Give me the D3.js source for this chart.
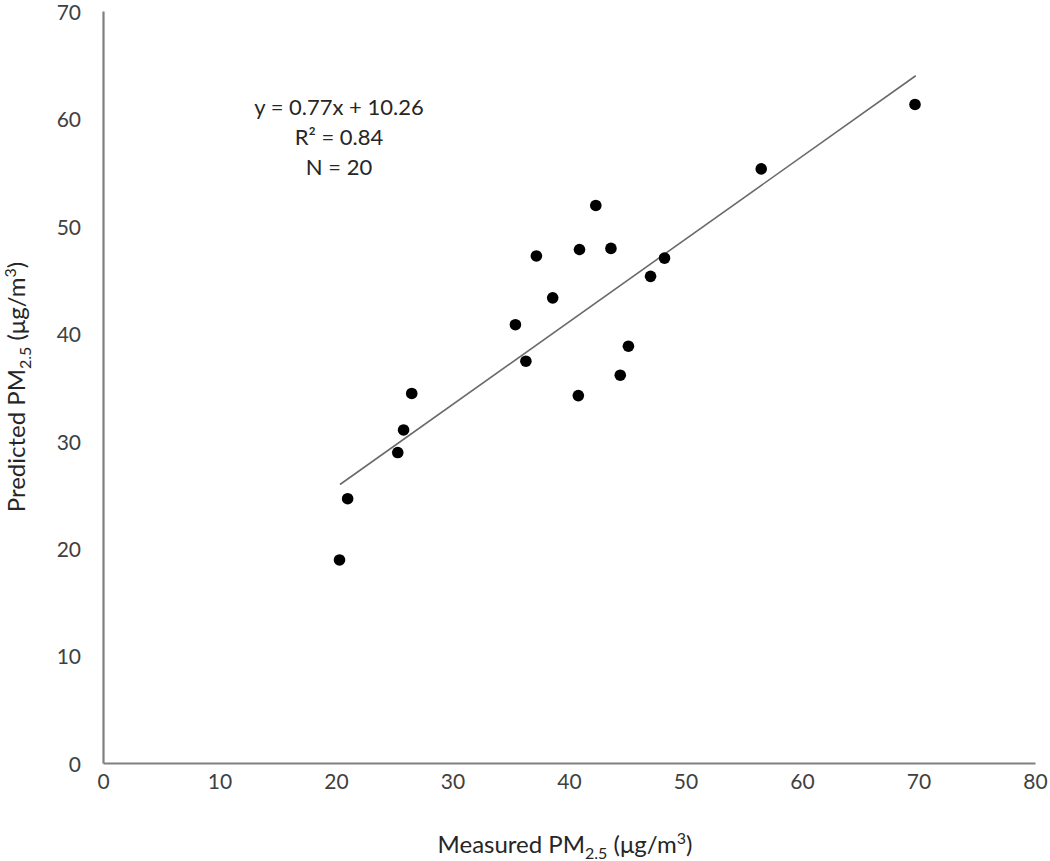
<!DOCTYPE html>
<html>
<head>
<meta charset="utf-8">
<script src="https://cdn.jsdelivr.net/npm/d3@7"></script>
<style>
  body { margin: 0; background: #fff; }
  text { font-family: Lato, "Open Sans", sans-serif; }
</style>
</head>
<body>
<div id="chart"></div>
<script>
// Measured vs predicted PM2.5
var measured  = [20.3, 21.0, 25.3, 25.8, 26.5, 35.4, 36.3, 37.2, 38.6, 40.9, 40.8, 42.3, 43.6, 44.4, 45.1, 47.0, 48.2, 56.5, 69.7];
var predicted = [18.9, 24.6, 28.9, 31.0, 34.4, 40.8, 37.4, 47.2, 43.3, 47.8, 34.2, 51.9, 47.9, 36.1, 38.8, 45.3, 47.0, 55.3, 61.3];

// trend line y = 0.77x + 10.26, drawn over the range of the data
var slope = 0.77;
var intercept = 10.26;
var fitRange = [20.34, 69.76];

var xTicks = [0, 10, 20, 30, 40, 50, 60, 70, 80];
var yTicks = [0, 10, 20, 30, 40, 50, 60, 70];
var notes = ['y = 0.77x + 10.26', 'R² = 0.84', 'N = 20'];

(function() {
  var svgWidth = 1050, svgHeight = 861;
  var plotLeft = 103, plotRight = 1035, plotTop = 11, plotBottom = 763;

  var svg = d3.select('#chart').append('svg')
    .attr('width', svgWidth)
    .attr('height', svgHeight);

  var x = d3.scaleLinear().domain([0, 80]).range([plotLeft, plotRight]);
  var y = d3.scaleLinear().domain([0, 70]).range([plotBottom, plotTop]);

  // axes: plain gray lines, no tick marks
  var xAxis = svg.append('g')
    .attr('transform', 'translate(0,' + plotBottom + ')')
    .call(d3.axisBottom(x).tickValues(xTicks).tickSize(0).tickPadding(22));
  var yAxis = svg.append('g')
    .attr('transform', 'translate(' + plotLeft + ',0)')
    .call(d3.axisLeft(y).tickValues(yTicks).tickSize(0).tickPadding(22));

  [xAxis, yAxis].forEach(function(g) {
    g.select('.domain').attr('stroke', '#7f7f7f').attr('stroke-width', 2.2);
    g.selectAll('text')
      .attr('fill', '#404040')
      .style('font-size', '21px')
      .style('font-family', 'Lato, "Open Sans", sans-serif');
  });
  xAxis.selectAll('text').attr('dy', '0.2em');
  yAxis.selectAll('text').attr('dy', '0.4em');

  // fitted line
  svg.append('line')
    .attr('x1', x(fitRange[0]))
    .attr('y1', y(slope * fitRange[0] + intercept))
    .attr('x2', x(fitRange[1]))
    .attr('y2', y(slope * fitRange[1] + intercept))
    .attr('stroke', '#6b6b6b')
    .attr('stroke-width', 1.6);

  // points
  svg.selectAll('circle')
    .data(measured)
    .enter()
    .append('circle')
    .attr('cx', function(d) { return x(d); })
    .attr('cy', function(d, i) { return y(predicted[i]); })
    .attr('r', 5.8)
    .attr('fill', '#000');

  // equation block
  svg.selectAll('.note')
    .data(notes)
    .enter()
    .append('text')
    .attr('class', 'note')
    .attr('x', 339)
    .attr('y', function(d, i) { return 115 + i * 30; })
    .attr('text-anchor', 'middle')
    .attr('fill', '#262626')
    .style('font-size', '22px')
    .text(function(d) { return d; });

  // axis titles with subscript / superscript parts
  var addTitle = function(sel, name) {
    sel.append('tspan').text(name + ' PM');
    sel.append('tspan').attr('dy', 6).style('font-size', '16px').text('2.5');
    sel.append('tspan').attr('dy', -6).text(' (μg/m');
    sel.append('tspan').attr('dy', -9).style('font-size', '16px').text('3');
    sel.append('tspan').attr('dy', 9).text(')');
  };

  addTitle(svg.append('text')
    .attr('x', 565)
    .attr('y', 853)
    .attr('text-anchor', 'middle')
    .attr('fill', '#262626')
    .style('font-size', '24px'), 'Measured');

  addTitle(svg.append('text')
    .attr('transform', 'translate(25,' + ((plotTop + plotBottom) / 2) + ') rotate(-90)')
    .attr('text-anchor', 'middle')
    .attr('fill', '#262626')
    .style('font-size', '24px'), 'Predicted');
})();
</script>
</body>
</html>
